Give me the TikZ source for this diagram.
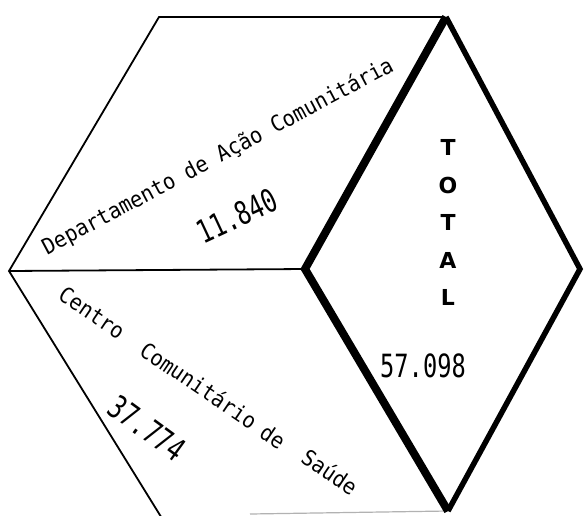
\documentclass[tikz,border=0pt]{standalone}
\usepackage{fontspec}
\newfontfamily\monofont[FakeStretch=0.93]{DejaVu Sans Mono}
\newfontfamily\numfont[FakeStretch=0.74]{DejaVu Sans Mono}
\newfontfamily\sansfont{DejaVu Sans}
\tikzset{
  thinedge/.style={line width=1.8pt, line join=miter, line cap=butt},
  heavyedge/.style={line width=8pt, line join=miter},
  midedge/.style={line width=5.5pt, line join=miter},
  facetext/.style={font=\monofont\fontsize{22}{24}\selectfont, inner sep=0pt},
  numtext/.style={font=\numfont\fontsize{32}{34}\selectfont, inner sep=0pt},
  totaltext/.style={font=\sansfont\bfseries\fontsize{22}{24}\selectfont, inner sep=0pt},
}
\begin{document}
\begin{tikzpicture}[x=1pt,y=-1pt]
\useasboundingbox (0,0) rectangle (584,515);
\clip (0,0) rectangle (584,515);
\fill[white] (0,0) rectangle (584,515);
% corners
\coordinate (A) at (159,17);
\coordinate (B) at (446,17);
\coordinate (Btop) at (443,17);
\coordinate (L) at (9,271);
\coordinate (M) at (305,269);
\coordinate (R) at (580,269);
\coordinate (Bot) at (448,511);
\coordinate (BL) at (163,520);
\coordinate (G) at (250,514);
% thin edges
\draw[thinedge] (Btop) -- (A) -- (L) -- (BL);
\draw[thinedge] (L) -- (M);
\draw[gray!60, line width=1.2pt] (G) -- (Bot);
% right rhombus
\draw[midedge] (B) -- (R) -- (Bot);
\draw[heavyedge] (B) -- (M) -- (Bot);
% top face
\node[facetext, rotate=28] (dac) at (218,157) {Departamento de Ação Comunitária};
\node[numtext, rotate=25] (n1) at (237,216) {11.840};
% lower face
\node[facetext, rotate=-34] (w1) at (92,313) {Centro};
\node[facetext, rotate=-34] (w2) at (199,385) {Comunitário};
\node[facetext, rotate=-34] (w3) at (273,437) {de};
\node[facetext, rotate=-34] (w4) at (330,472) {Saúde};
\node[numtext, rotate=-36] (n2) at (147,428) {37.774};
% right face
\node[totaltext] (t1) at (448,147) {T};
\node[totaltext] (t2) at (448,185) {O};
\node[totaltext] (t3) at (448,222) {T};
\node[totaltext] (t4) at (448,260) {A};
\node[totaltext] (t5) at (448,297) {L};
\node[numtext] (n3) at (423,366) {57.098};
\end{tikzpicture}
\end{document}
